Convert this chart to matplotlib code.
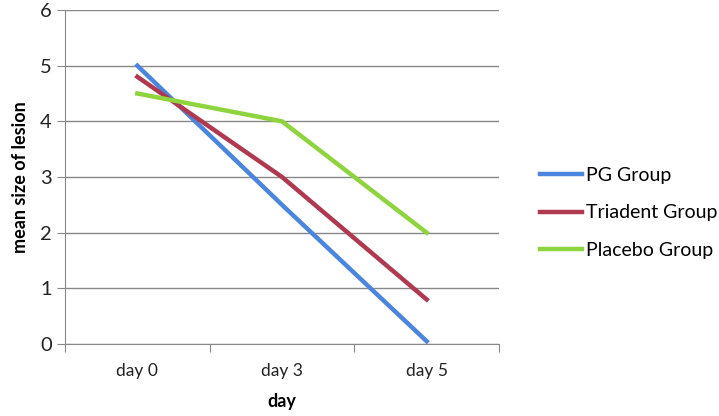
import matplotlib.pyplot as plt
import numpy as np

plt.rcParams['font.family'] = ['Lato', 'DejaVu Sans']

days = ['day 0', 'day 3', 'day 5']
pg_group = [5.0, 2.5, 0.05]
triadent_group = [4.8, 3.0, 0.8]
placebo_group = [4.5, 4.0, 2.0]

fig = plt.figure(figsize=(7.19, 4.16), dpi=100)
ax = fig.add_axes([65/719, 1 - 344/416, 434/719, 334/416])

x = np.arange(len(days))
ax.plot(x, pg_group, color='#4A86E0', lw=3.2, label='PG Group')
ax.plot(x, triadent_group, color='#B0384F', lw=3.2, label='Triadent Group')
ax.plot(x, placebo_group, color='#8ED43C', lw=3.2, label='Placebo Group')

ax.set_xlim(-0.5, 2.5)
ax.set_ylim(0, 6)
ax.set_yticks(range(7))
ax.yaxis.grid(True, color='#888888', lw=1)
ax.set_axisbelow(True)

# category labels between boundary ticks
ax.set_xticks([-0.5, 0.5, 1.5, 2.5])
ax.set_xticklabels([])
ax.set_xticks(x, minor=True)
ax.set_xticklabels(days, minor=True)
ax.tick_params(axis='x', which='minor', length=0, pad=14, labelsize=12.5, colors='#222222')
ax.tick_params(axis='x', which='major', length=6, color='#888888')
ax.tick_params(axis='y', length=6, color='#888888', labelsize=14.5, colors='#222222')

for s in ['top', 'right']:
    ax.spines[s].set_visible(False)
for s in ['left', 'bottom']:
    ax.spines[s].set_color('#888888')

ax.set_xlabel('day', fontweight='bold', fontsize=13, labelpad=10)
ax.set_ylabel('mean size of lesion', fontweight='bold', fontsize=13, labelpad=8)

fig.legend(loc='center left', bbox_to_anchor=(522/719, 1 - 213/416), frameon=False,
           fontsize=14, handlelength=2.2, handletextpad=0.2, labelspacing=1.05)

plt.savefig('out.png')
